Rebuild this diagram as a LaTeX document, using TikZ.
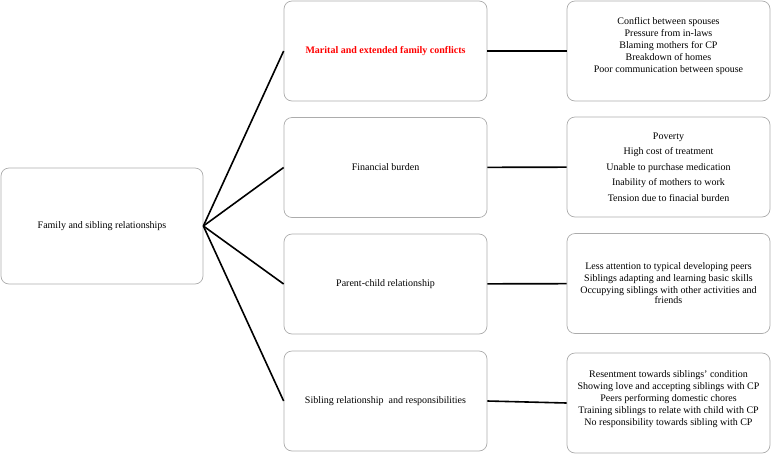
\documentclass[tikz,border=0pt]{standalone}
\usepackage{fontspec}
\setmainfont{Liberation Serif}
\usepackage{tikz}
\usetikzlibrary{positioning}

\begin{document}
\begin{tikzpicture}[x=1pt, y=-1pt,
        box/.style={draw=gray!65, rounded corners=8pt, line width=0.7pt,
            minimum width=203pt, minimum height=100pt, align=center,
            inner sep=2pt, font=\fontsize{10}{12}\selectfont},
        link/.style={line width=1.6pt}]
        \useasboundingbox (0,0) rectangle (772,456);

        \node[box, minimum width=202pt, minimum height=116pt] (F) at (102,226) {Family and sibling relationships};

        % themes
        \node[box] (MC) at (385.5,51) {\textcolor{red}{\textbf{Marital and extended family conflicts}}};
        \node[box] (FB) at (385.5,167.5) {Financial burden};
        \node[box] (PC) at (385.5,284) {Parent-child relationship};
        \node[box] (SR) at (385.5,401) {Sibling relationship\ \ and responsibilities};

        % sub-themes
        \node[box, text depth=12pt] (MCs) at (668.5,51) {Conflict between spouses\\Pressure from in-laws\\Blaming mothers for CP\\Breakdown of homes\\Poor communication between spouse};
        \node[box, font=\fontsize{10}{15.5}\selectfont] (FBs) at (668.5,167) {Poverty\\High cost of treatment\\Unable to purchase medication\\Inability of mothers to work\\Tension due to finacial burden};
        \node[box] (PCs) at (668.5,283.5) {Less attention to typical developing peers\\Siblings adapting and learning basic skills\\Occupying siblings with other activities and\\[-2pt]friends};
        \node[box, text depth=10pt] (SRs) at (668.5,403) {Resentment towards siblings' condition\\Showing love and accepting siblings with CP\\Peers performing domestic chores\\Training siblings to relate with child with CP\\No responsibility towards sibling with CP};

        \draw[link] (F.east) -- (MC.west);
        \draw[link] (F.east) -- (FB.west);
        \draw[link] (F.east) -- (PC.west);
        \draw[link] (F.east) -- (SR.west);

        \draw[link] (MC) -- (MCs);
        \draw[link] (FB) -- (FBs);
        \draw[link] (PC) -- (PCs);
        \draw[link] (SR.east) -- (SRs.west);
    \end{tikzpicture}
\end{document}
